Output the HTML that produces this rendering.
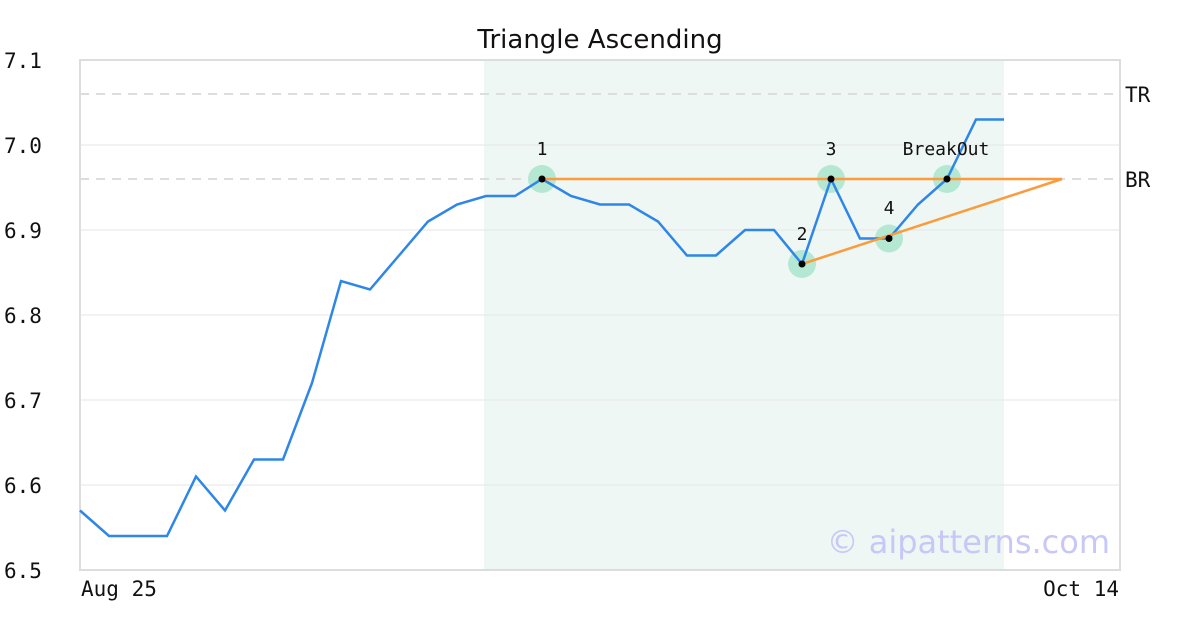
<!DOCTYPE html>
<html><head><style>body{margin:0;background:#fff}svg{display:block}</style></head><body>
<svg width="1200" height="630" xmlns="http://www.w3.org/2000/svg">
<rect width="1200" height="630" fill="#fff"/>
<rect x="484" y="60" width="520" height="510" fill="#eef7f3"/>
<g stroke="#e6e6e6" stroke-width="1">
<line x1="80" x2="1120" y1="145" y2="145"/><line x1="80" x2="1120" y1="230" y2="230"/>
<line x1="80" x2="1120" y1="315" y2="315"/><line x1="80" x2="1120" y1="400" y2="400"/>
<line x1="80" x2="1120" y1="485" y2="485"/></g>
<g stroke="#ddd" stroke-width="2" stroke-dasharray="9,7">
<line x1="80" x2="1120" y1="94" y2="94"/><line x1="80" x2="1120" y1="179" y2="179"/></g>
<rect x="80" y="60" width="1040" height="510" fill="none" stroke="#ddd" stroke-width="2"/>
<g fill="#b5e8d3"><circle cx="542" cy="179" r="14"/><circle cx="802" cy="264" r="14"/><circle cx="831" cy="179" r="14"/><circle cx="889" cy="238.5" r="14"/><circle cx="947" cy="179" r="14"/></g>
<polyline fill="none" stroke="#2e86e8" stroke-width="2.5" points="80,510.5 109,536 138,536 167,536 196,476.5 225,510.5 254,459.5 283,459.5 312,383 341,281 370,289.5 399,255.5 428,221.5 457,204.5 486,196 515,196 542,179 571,196 600,204.5 629,204.5 658,221.5 687,255.5 716,255.5 745,230 774,230 802,264 831,179 860,238.5 889,238.5 918,204.5 947,179 976,119.5 1004,119.5"/>
<line x1="542" y1="179" x2="1062" y2="179" stroke="#fb9b3c" stroke-width="2.5"/>
<line x1="802" y1="264" x2="1062" y2="179" stroke="#fb9b3c" stroke-width="2.5"/>
<g fill="#000"><circle cx="542" cy="179" r="3.5"/><circle cx="802" cy="264" r="3.5"/><circle cx="831" cy="179" r="3.5"/><circle cx="889" cy="238.5" r="3.5"/><circle cx="947" cy="179" r="3.5"/></g>
<g font-family="DejaVu Sans Mono, Liberation Mono, monospace" font-size="18" fill="#111">
<text x="542" y="155" text-anchor="middle">1</text><text x="802" y="240" text-anchor="middle">2</text>
<text x="831" y="155" text-anchor="middle">3</text><text x="889" y="214" text-anchor="middle">4</text>
<text x="946" y="155" text-anchor="middle">BreakOut</text>
<text x="4" y="68" font-size="21">7.1</text><text x="4" y="153" font-size="21">7.0</text>
<text x="4" y="238" font-size="21">6.9</text><text x="4" y="323" font-size="21">6.8</text>
<text x="4" y="408" font-size="21">6.7</text><text x="4" y="493" font-size="21">6.6</text>
<text x="4" y="578" font-size="21">6.5</text>
<text x="1125" y="102" font-size="21">TR</text><text x="1125" y="187" font-size="21">BR</text>
<text x="81" y="596" font-size="21">Aug 25</text><text x="1119" y="596" font-size="21" text-anchor="end">Oct 14</text>
</g>
<text x="600" y="48" text-anchor="middle" font-family="DejaVu Sans, Liberation Sans, sans-serif" font-size="26" fill="#111">Triangle Ascending</text>
<text x="1110" y="553" text-anchor="end" font-family="DejaVu Sans, Liberation Sans, sans-serif" font-size="32" fill="#c8c8f8">© aipatterns.com</text>
</svg>
</body></html>
